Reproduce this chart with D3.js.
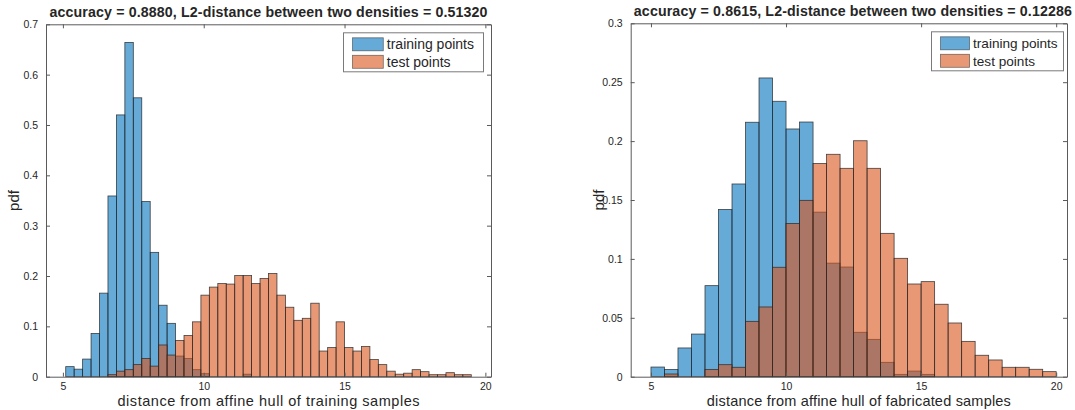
<!DOCTYPE html>
<html>
<head>
<meta charset="utf-8">
<script src="https://cdn.jsdelivr.net/npm/d3@7"></script>
<style>
  html, body { margin: 0; padding: 0; background: #fff; }
  svg { display: block; }
  text { font-family: "Liberation Sans", Arial, Helvetica, sans-serif; fill: #262626; }
</style>
</head>
<body>
<svg id="chart" width="1075" height="410"></svg>
<script>
// ---- Left panel: distances from affine hull of training samples (bin width 0.3) ----
const leftTrainStart = 5.1;
const leftTestStart = 6.6;
const leftBinWidth = 0.3;
const leftTrainPdf = [0.020, 0.015, 0.035, 0.086, 0.166, 0.359, 0.520, 0.664, 0.554, 0.348,
  0.247, 0.142, 0.106, 0.041, 0.036, 0.014, 0.006, 0, 0, 0, 0, 0.005];
const leftTestPdf = [0.004, 0.011, 0.014, 0.024, 0.036, 0.021, 0.063, 0.043, 0.072, 0.082,
  0.109, 0.162, 0.178, 0.185, 0.184, 0.201, 0.201, 0.185, 0.195, 0.205,
  0.162, 0.138, 0.112, 0.116, 0.146, 0.051, 0.058, 0.109, 0.058, 0.051,
  0.060, 0.034, 0.024, 0.011, 0.005, 0.007, 0.014, 0.010, 0.004, 0.004,
  0.008, 0.004, 0.004];
const leftTitle = "accuracy = 0.8880, L2-distance between two densities = 0.51320";
const leftXLabel = "distance from affine hull of training samples";
const leftYTicks = [0, 0.1, 0.2, 0.3, 0.4, 0.5, 0.6, 0.7];

// ---- Right panel: distances from affine hull of fabricated samples (bin width 0.5) ----
const rightTrainStart = 5.0;
const rightTestStart = 5.5;
const rightBinWidth = 0.5;
const rightTrainPdf = [0.0082, 0.0062, 0.0244, 0.0362, 0.0773, 0.1420, 0.1636, 0.2160, 0.2536, 0.2338,
  0.2103, 0.2162, 0.1397, 0.0964, 0.0931, 0.0377, 0.0317, 0.0122, 0.0020, 0.0048, 0.0020];
const rightTestPdf = [0.0023, 0, 0, 0.0062, 0.0102, 0.0080, 0.0470, 0.0592, 0.0929, 0.1300,
  0.1497, 0.1810, 0.1888, 0.1769, 0.2003, 0.1769, 0.1217, 0.1005, 0.0787, 0.0807,
  0.0615, 0.0456, 0.0300, 0.0182, 0.0142, 0.0080, 0.0080, 0.0063, 0.0043];
const rightTitle = "accuracy = 0.8615, L2-distance between two densities = 0.12286";
const rightXLabel = "distance from affine hull of fabricated samples";
const rightYTicks = [0, 0.05, 0.1, 0.15, 0.2, 0.25, 0.3];

const xTicks = [5, 10, 15, 20];
const seriesNames = ["training points", "test points"];
const seriesColors = ["#0072BD", "#D95319"];

const svg = d3.select("#chart");

function toBins(start, width, values) {
  return values.map((v, i) => ({ x0: start + i * width, x1: start + (i + 1) * width, v }))
    .filter(d => d.v > 0);
}

function panel(cfg) {
  const x = d3.scaleLinear().domain(cfg.xDomain).range([cfg.left, cfg.right]);
  const y = d3.scaleLinear().domain(cfg.yDomain).range([cfg.bottom, cfg.top]);
  const g = svg.append("g");

  // histograms: training first, test drawn over it (semi-transparent faces)
  cfg.series.forEach((s, k) => {
    g.append("g").selectAll("rect")
      .data(toBins(s.start, cfg.binWidth, s.values))
      .join("rect")
      .attr("x", d => x(d.x0))
      .attr("y", d => y(d.v))
      .attr("width", d => x(d.x1) - x(d.x0))
      .attr("height", d => y(0) - y(d.v))
      .attr("fill", seriesColors[k])
      .attr("fill-opacity", 0.6)
      .attr("stroke", "#262626")
      .attr("stroke-opacity", 0.85)
      .attr("stroke-width", 0.8);
  });

  // box with inward ticks on all four sides
  const fmt = d3.format("");
  const axisStyle = sel => {
    sel.select(".domain").attr("stroke", "#5a5a5a");
    sel.selectAll(".tick line").attr("stroke", "#5a5a5a");
    sel.selectAll("text").attr("font-size", 10.5).attr("fill", "#262626")
      .style("font-family", "'Liberation Sans', Arial, sans-serif");
  };
  g.append("g").attr("transform", `translate(0,${cfg.bottom})`)
    .call(d3.axisBottom(x).tickValues(xTicks).tickSize(-4).tickSizeOuter(0).tickPadding(6).tickFormat(fmt))
    .call(axisStyle);
  g.append("g").attr("transform", `translate(0,${cfg.top})`)
    .call(d3.axisTop(x).tickValues(xTicks).tickSize(-4).tickSizeOuter(0).tickFormat(""))
    .call(axisStyle);
  g.append("g").attr("transform", `translate(${cfg.left},0)`)
    .call(d3.axisLeft(y).tickValues(cfg.yTicks).tickSize(-4).tickSizeOuter(0).tickPadding(8).tickFormat(fmt))
    .call(axisStyle);
  g.append("g").attr("transform", `translate(${cfg.right},0)`)
    .call(d3.axisRight(y).tickValues(cfg.yTicks).tickSize(-4).tickSizeOuter(0).tickFormat(""))
    .call(axisStyle);

  const cx = (cfg.left + cfg.right) / 2;
  g.append("text").attr("x", cx + cfg.titleShift).attr("y", cfg.top - 7)
    .attr("text-anchor", "middle").attr("font-size", 14.2).attr("font-weight", "bold")
    .attr("textLength", cfg.titleWidth).attr("lengthAdjust", "spacing")
    .attr("fill", "#000").text(cfg.title);
  g.append("text").attr("x", cx + cfg.xLabelShift).attr("y", cfg.bottom + 29)
    .attr("text-anchor", "middle").attr("font-size", 14.5)
    .attr("textLength", cfg.xLabelWidth).attr("lengthAdjust", "spacing")
    .text(cfg.xLabel);
  g.append("text")
    .attr("transform", `translate(${cfg.left - 27},${(cfg.top + cfg.bottom) / 2}) rotate(-90)`)
    .attr("text-anchor", "middle").attr("font-size", 15).text("pdf");

  // legend in the upper-right corner
  const lw = cfg.legendWidth;
  const lg = g.append("g").attr("transform", `translate(${cfg.right - lw - cfg.legendGap},${cfg.top + 8})`);
  lg.append("rect").attr("x", 0.5).attr("y", 0.5).attr("width", lw).attr("height", 39)
    .attr("fill", "#fff").attr("stroke", "#7a7a7a").attr("stroke-width", 1);
  seriesNames.forEach((name, k) => {
    lg.append("rect").attr("x", 9.5).attr("y", 5.5 + k * 17.5).attr("width", lw * 0.22).attr("height", 13)
      .attr("fill", seriesColors[k]).attr("fill-opacity", 0.6)
      .attr("stroke", "#262626").attr("stroke-opacity", 0.6).attr("stroke-width", 0.8);
    lg.append("text").attr("x", 13 + lw * 0.22).attr("y", 17 + k * 17.5)
      .attr("font-size", cfg.legendFont).text(name);
  });
}

panel({
  left: 46, right: 491, top: 24.3, bottom: 376.7,
  xDomain: [4.4, 20.2], yDomain: [0, 0.7], yTicks: leftYTicks,
  binWidth: leftBinWidth,
  series: [{ start: leftTrainStart, values: leftTrainPdf }, { start: leftTestStart, values: leftTestPdf }],
  title: leftTitle, xLabel: leftXLabel, titleShift: 0, xLabelShift: 0,
  titleWidth: 438, xLabelWidth: 302,
  legendWidth: 140, legendFont: 14, legendGap: 8
});

panel({
  left: 630.7, right: 1067, top: 23.3, bottom: 376.7,
  xDomain: [4.25, 20.4], yDomain: [0, 0.3], yTicks: rightYTicks,
  binWidth: rightBinWidth,
  series: [{ start: rightTrainStart, values: rightTrainPdf }, { start: rightTestStart, values: rightTestPdf }],
  title: rightTitle, xLabel: rightXLabel, titleShift: 4, xLabelShift: 10,
  titleWidth: 438, xLabelWidth: 304,
  legendWidth: 132, legendFont: 13.6, legendGap: 4
});
</script>
</body>
</html>
